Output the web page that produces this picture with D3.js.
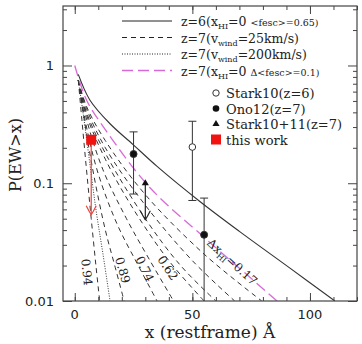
<!DOCTYPE html>
<html lang="en">
<head>
<meta charset="utf-8">
<style>
  body { margin: 0; background: #fff; }
  svg { font-family: "DejaVu Serif", serif; }
  .tick-lab { font-family: "DejaVu Sans", sans-serif; font-size: 13px; fill: #222; }
</style>
</head>
<body>
<script src="https://d3js.org/d3.v7.min.js"></script>
<script>
const W = 362, H = 344;

// curves: [x (A), P(EW>x)]
const z6 = [[1.5,0.84],[6.4,0.51],[15,0.32],[24.8,0.213],[35,0.139],[53.2,0.07],[70,0.039],[91.5,0.019],[110.6,0.01]];
const z7fesc = [[0,1.0],[5,0.51],[13.5,0.276],[31.9,0.092],[55.3,0.0343],[70,0.019],[86,0.01]];
const z7wind200 = [[1.5,0.75],[3.5,0.4],[6,0.17],[9,0.06],[12,0.025],[15,0.01]];
const z7wind25 = [
  [[1.5,0.75],[5,0.45],[13,0.23],[30,0.08],[55,0.025],[79.5,0.01]],
  [[1.5,0.75],[5,0.43],[13,0.2],[30,0.065],[50,0.022],[68,0.01]],
  [[1.5,0.75],[5,0.4],[13,0.18],[30,0.05],[45,0.02],[60,0.01]],
  [[1.5,0.75],[5,0.38],[13,0.16],[25,0.06],[40,0.022],[55,0.01]],
  [[1.5,0.75],[5,0.35],[12,0.13],[22,0.05],[32,0.022],[42,0.01]],
  [[1.5,0.75],[5,0.3],[10,0.12],[18,0.045],[27,0.02],[35,0.01]],
  [[1.5,0.75],[4,0.35],[8,0.12],[13,0.04],[17,0.02],[21,0.01]],
  [[1.5,0.75],[3,0.35],[5,0.13],[7,0.05],[9,0.02],[10.6,0.01]]
];
// curve labels: text, centre x, centre P, angle
const curveLabels = [
  {t: "0.94", x: 5.1, p: 0.0176, a: 84},
  {t: "0.89", x: 20.4, p: 0.0183, a: 74},
  {t: "0.74", x: 29.8, p: 0.0187, a: 64},
  {t: "0.62", x: 39.6, p: 0.0191, a: 56}
];
const dxLabel = {x: 67, p: 0.0215, a: 42};

// observations
const stark10 = [{x: 50, p: 0.203, lo: 0.0714, hi: 0.336}];
const ono12 = [{x: 25, p: 0.177, lo: 0.081, hi: 0.273}, {x: 55, p: 0.0365, lo: 0.005, hi: 0.0748}];
const stark11 = [{x: 30, p: 0.1, lim: 0.049}];
const thisWork = [{x: 7, p: 0.234, lim: 0.054}];

const xTicksMajor = [0, 50, 100];
const xTicksMinor = [0, 10, 20, 30, 40, 50, 60, 70, 80, 90, 100, 110, 120];
const yTicksMajor = [0.01, 0.1, 1];
const yTicksMinor = [0.02,0.03,0.04,0.05,0.06,0.07,0.08,0.09,0.2,0.3,0.4,0.5,0.6,0.7,0.8,0.9,2,3];

const legendLines = [
  {main: "z=6(x", sub: "HI", rest: "=0 ", small: "<fesc>=0.65)", dash: null, color: "#222", w: 1},
  {main: "z=7(v", sub: "wind", rest: "=25km/s)", small: "", dash: "5,4", color: "#222", w: 1},
  {main: "z=7(v", sub: "wind", rest: "=200km/s)", small: "", dash: "1,1.5", color: "#222", w: 1},
  {main: "z=7(x", sub: "HI", rest: "=0 ", small: "\u0394<fesc>=0.1)", dash: "11,5", color: "#d86ad8", w: 1.3}
];
const legendPts = ["Stark10(z=6)", "Ono12(z=7)", "Stark10+11(z=7)", "this work"];

const L = 63, R = 357, T = 6, B = 301;
const x = d3.scaleLinear().domain([-5, 120]).range([L, R]);
const y = d3.scaleLog().domain([0.01, 3.2]).range([B, T]);

const svg = d3.select("body").append("svg").attr("width", W).attr("height", H);
svg.append("clipPath").attr("id", "c").append("rect")
  .attr("x", L).attr("y", T).attr("width", R - L).attr("height", B - T);

const line = d3.line().x(d => x(d[0])).y(d => y(d[1])).curve(d3.curveCatmullRom.alpha(0.5));
const plot = svg.append("g").attr("clip-path", "url(#c)");

z7wind25.forEach(c => plot.append("path").attr("d", line(c)).attr("fill", "none")
  .attr("stroke", "#333").attr("stroke-width", 1).attr("stroke-dasharray", "5,4"));
plot.append("path").attr("d", line(z7wind200)).attr("fill", "none")
  .attr("stroke", "#333").attr("stroke-width", 1).attr("stroke-dasharray", "1,1.5");
plot.append("path").attr("d", line(z7fesc)).attr("fill", "none")
  .attr("stroke", "#d86ad8").attr("stroke-width", 1.3).attr("stroke-dasharray", "11,5");
plot.append("path").attr("d", line(z6)).attr("fill", "none")
  .attr("stroke", "#333").attr("stroke-width", 1.1);

// curve labels
curveLabels.forEach(d => svg.append("text")
  .attr("transform", `translate(${x(d.x)},${y(d.p)}) rotate(${d.a})`)
  .attr("text-anchor", "middle").attr("dy", "0.35em")
  .attr("font-size", 12).attr("fill", "#222").text(d.t));
const dl = svg.append("text")
  .attr("transform", `translate(${x(dxLabel.x)},${y(dxLabel.p)}) rotate(${dxLabel.a})`)
  .attr("text-anchor", "middle").attr("dy", "0.35em")
  .attr("font-size", 12).attr("fill", "#222");
dl.append("tspan").text("\u0394x");
dl.append("tspan").attr("font-size", 8).attr("dy", 3).text("HI");
dl.append("tspan").attr("dy", -3).text("=0.17");

// axes
const ax = svg.append("g");
function xAxis(gen, ty, k, ticks) {
  ax.append("g").attr("transform", `translate(0,${ty})`)
    .call(gen(x).tickValues(ticks).tickSize(k).tickFormat(""))
    .call(g => g.select(".domain").remove());
}
function yAxis(gen, tx, k, ticks) {
  ax.append("g").attr("transform", `translate(${tx},0)`)
    .call(gen(y).tickValues(ticks).tickSize(k).tickFormat(""))
    .call(g => g.select(".domain").remove());
}
xAxis(d3.axisBottom, B, -8, xTicksMajor);
xAxis(d3.axisBottom, B, -4, xTicksMinor);
xAxis(d3.axisTop, T, -8, xTicksMajor);
xAxis(d3.axisTop, T, -4, xTicksMinor);
yAxis(d3.axisLeft, L, -9, yTicksMajor);
yAxis(d3.axisLeft, L, -4, yTicksMinor);
yAxis(d3.axisRight, R, -9, yTicksMajor);
yAxis(d3.axisRight, R, -4, yTicksMinor);
ax.selectAll("line").attr("stroke", "#444");
svg.append("rect").attr("x", L).attr("y", T).attr("width", R - L).attr("height", B - T)
  .attr("fill", "none").attr("stroke", "#444").attr("stroke-width", 1.2);

svg.selectAll(".xl").data(xTicksMajor).join("text").attr("class", "tick-lab")
  .attr("x", d => x(d)).attr("y", B + 18).attr("text-anchor", "middle").text(d => d);
svg.selectAll(".yl").data(yTicksMajor).join("text").attr("class", "tick-lab")
  .attr("x", L - 9).attr("y", d => y(d) + 5).attr("text-anchor", "end").text(d => d);

svg.append("text").attr("x", 210).attr("y", 338).attr("text-anchor", "middle")
  .attr("font-size", 17).attr("fill", "#222").text("x (restframe) \u00c5");
svg.append("text").attr("transform", "translate(21,155) rotate(-90)")
  .attr("text-anchor", "middle").attr("font-size", 16).attr("fill", "#222").text("P(EW>x)");

// observations
const obs = svg.append("g").attr("stroke", "#333").attr("stroke-width", 1);
function errbar(d) {
  const lo = Math.max(d.lo, 0.01);
  obs.append("line").attr("x1", x(d.x)).attr("x2", x(d.x)).attr("y1", y(d.hi)).attr("y2", y(lo));
  obs.append("line").attr("x1", x(d.x) - 4).attr("x2", x(d.x) + 4).attr("y1", y(d.hi)).attr("y2", y(d.hi));
  if (d.lo >= 0.01)
    obs.append("line").attr("x1", x(d.x) - 4).attr("x2", x(d.x) + 4).attr("y1", y(d.lo)).attr("y2", y(d.lo));
}
stark10.forEach(errbar);
ono12.forEach(errbar);
stark10.forEach(d => obs.append("circle").attr("cx", x(d.x)).attr("cy", y(d.p)).attr("r", 3.3).attr("fill", "#fff"));
ono12.forEach(d => obs.append("circle").attr("cx", x(d.x)).attr("cy", y(d.p)).attr("r", 3.5).attr("fill", "#111"));

function arrow(d, col) {
  const g = svg.append("g").attr("stroke", col).attr("fill", "none").attr("stroke-width", 1.2);
  const x0 = x(d.x), y1 = y(d.lim);
  g.append("line").attr("x1", x0).attr("x2", x0).attr("y1", y(d.p)).attr("y2", y1);
  g.append("path").attr("d", `M${x0 - 5},${y1 - 9} Q${x0 - 2},${y1 - 3} ${x0},${y1} Q${x0 + 2},${y1 - 3} ${x0 + 5},${y1 - 9}`);
}
stark11.forEach(d => arrow(d, "#222"));
thisWork.forEach(d => arrow(d, "#e8453c"));
const tri = d3.symbol().type(d3.symbolTriangle).size(22);
stark11.forEach(d => svg.append("path").attr("d", tri()).attr("transform", `translate(${x(d.x)},${y(d.p)})`).attr("fill", "#111"));
thisWork.forEach(d => svg.append("rect").attr("x", x(d.x) - 5).attr("y", y(d.p) - 5)
  .attr("width", 10).attr("height", 10).attr("fill", "#f0130f"));

// legend (lines)
const lg = svg.append("g");
legendLines.forEach((d, i) => {
  const ly = 21 + i * 16.5;
  lg.append("line").attr("x1", 122).attr("x2", 172).attr("y1", ly).attr("y2", ly)
    .attr("stroke", d.color).attr("stroke-width", d.w).attr("stroke-dasharray", d.dash);
  const t = lg.append("text").attr("x", 181).attr("y", ly + 5).attr("font-size", 12.5).attr("fill", "#222");
  t.append("tspan").text(d.main);
  t.append("tspan").attr("font-size", 8).attr("dy", 3).text(d.sub);
  t.append("tspan").attr("dy", -3).text(d.rest);
  if (d.small) t.append("tspan").attr("font-size", 9.5).text(d.small);
});

// legend (points)
const pg = svg.append("g");
legendPts.forEach((s, i) => {
  const ly = 93 + i * 15.5;
  const sx = 216;
  if (i === 0) pg.append("circle").attr("cx", sx).attr("cy", ly).attr("r", 3.2).attr("fill", "#fff").attr("stroke", "#333");
  if (i === 1) pg.append("circle").attr("cx", sx).attr("cy", ly).attr("r", 3.3).attr("fill", "#111");
  if (i === 2) pg.append("path").attr("d", tri()).attr("transform", `translate(${sx},${ly})`).attr("fill", "#111");
  if (i === 3) pg.append("rect").attr("x", sx - 5).attr("y", ly - 5).attr("width", 10).attr("height", 10).attr("fill", "#f0130f");
  pg.append("text").attr("x", 226).attr("y", ly + 5).attr("font-size", 13).attr("fill", "#222").text(s);
});
</script>
</body>
</html>
